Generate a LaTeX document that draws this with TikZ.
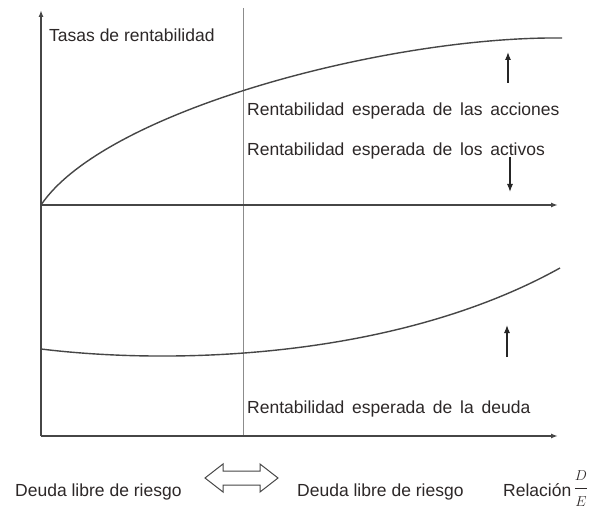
\documentclass[tikz,border=0pt]{standalone}
\usepackage{fontspec}
\setmainfont{Liberation Sans}
\newfontfamily\widesp[WordSpace=1.6]{Liberation Sans}
\usetikzlibrary{arrows.meta}
\definecolor{axisgray}{RGB}{70,70,70}
\definecolor{guidegray}{RGB}{140,140,140}
\definecolor{txt}{RGB}{45,40,40}
\begin{document}
\begin{tikzpicture}[x=1pt,y=-1pt,
  axisline/.style={draw=axisgray, line width=1.4pt, -{Latex[length=7pt,width=5pt]}},
  curveline/.style={draw=axisgray, line width=1.4pt},
  guideline/.style={draw=guidegray, line width=0.7pt},
  marker/.style={draw=black!85, line width=1.1pt, -{Latex[length=8pt,width=6pt]}},
  lbl/.style={anchor=base west, inner sep=0pt, font=\fontsize{17.5}{20}\selectfont, text=txt},
  wlbl/.style={lbl, font=\widesp\fontsize{17.5}{20}\selectfont},
  hollow/.style={draw=axisgray, line width=1pt, fill=white, line join=miter}]
\fill[white] (0,0) rectangle (603,508);
\useasboundingbox (0,0) rectangle (603,508);

% coordinates
\coordinate (O1) at (41,205);
\coordinate (O2) at (41,436);
\coordinate (Ytop) at (41,10);
\coordinate (X1) at (558,205);
\coordinate (X2) at (558,436);
\coordinate (Gtop) at (243,8);
\coordinate (Gbot) at (243,436);
\coordinate (C1e) at (562,38);
\coordinate (C2s) at (41,349);
\coordinate (C2e) at (560,268);

% guide line
\draw[guideline] (Gtop) -- (Gbot);

% axes
\draw[axisline] (O2) -- (Ytop);
\draw[axisline] (O1) -- (X1);
\draw[axisline] (O2) -- (X2);

% curves
\draw[curveline] (O1) .. controls (105,110) and (390,36) .. (C1e);
\draw[curveline] (C2s) .. controls (180,366) and (400,357) .. (C2e);

% marker arrows
\coordinate (a1s) at (508,83);
\coordinate (a1e) at (508,52);
\coordinate (a2s) at (510,157);
\coordinate (a2e) at (510,192);
\coordinate (a3s) at (507,357);
\coordinate (a3e) at (507,325);
\draw[marker] (a1s) -- (a1e);
\draw[marker] (a2s) -- (a2e);
\draw[marker] (a3s) -- (a3e);

% labels
\node[lbl] (tasas) at (49,42) {Tasas de rentabilidad};
\node[wlbl] (acc) at (247,116) {Rentabilidad esperada de las acciones};
\node[wlbl] (act) at (247,156) {Rentabilidad esperada de los activos};
\node[wlbl] (deu) at (247,413) {Rentabilidad esperada de la deuda};
\node[lbl] (dl1) at (15,496) {Deuda libre de riesgo};
\node[lbl] (dl2) at (297,496) {Deuda libre de riesgo};
\node[lbl] (rel) at (503,496) {Relación};
\node[anchor=base, inner sep=0pt, font=\fontsize{15}{15}\selectfont, text=txt] (frac) at (581,491.75)
  {$\displaystyle\frac{\rule[-6pt]{0pt}{6pt}D}{\rule{0pt}{17pt}E}$};

% hollow double arrow
\draw[hollow] (205,478) -- (223,464) -- (223,471) -- (260,471) -- (260,464) -- (278,478)
  -- (260,492) -- (260,485) -- (223,485) -- (223,492) -- cycle;
\end{tikzpicture}
\end{document}
